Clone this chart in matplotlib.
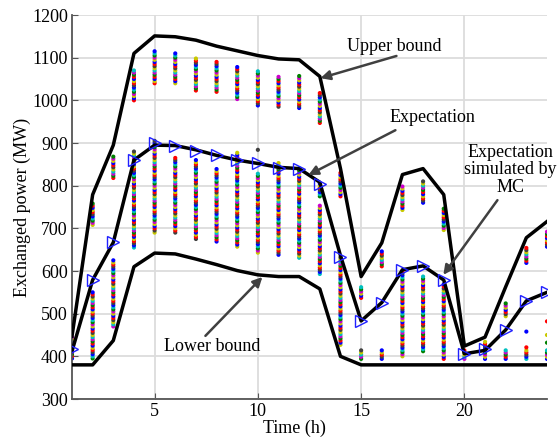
import numpy as np
import matplotlib
matplotlib.use("Agg")
import matplotlib.pyplot as plt

plt.rcParams['font.family'] = ['Liberation Serif', 'DejaVu Serif']

hours = list(range(1, 25))
upper_bound = [447, 779, 895, 1110, 1151, 1149, 1141, 1127, 1116, 1105, 1097, 1095,
               1056, 840, 587, 666, 826, 840, 779, 424, 445, 563, 678, 716]
expectation = [412, 579, 667, 860, 895, 894, 884, 871, 860, 852, 843, 840,
               808, 636, 483, 526, 603, 612, 579, 406, 414, 462, 530, 550]
mc_expectation = [418, 579, 667, 860, 900, 894, 882, 871, 859, 853, 842, 839,
                  804, 632, 483, 526, 603, 612, 579, 406, 418, 462, 530, 550]
lower_bound = [380, 380, 437, 610, 642, 640, 628, 615, 601, 591, 587, 587,
               558, 400, 380, 380, 380, 380, 380, 380, 380, 380, 380, 380]

# Monte Carlo sample columns: (hour, low, high)
col_hours = [1, 2, 2, 3, 3, 4, 4, 5, 5, 6, 6, 7, 7, 8, 8, 9, 9, 10, 10, 11, 11,
             12, 12, 13, 13, 13, 14, 14, 15, 15, 16, 16, 17, 17, 18, 18, 19, 19,
             20, 21, 22, 22, 23, 23, 24, 24]
col_lo = [395, 395, 708, 470, 818, 655, 1000, 690, 1040, 690, 1040, 675, 1023,
          669, 1020, 657, 1003, 643, 988, 638, 985, 631, 982, 593, 775, 947,
          427, 775, 394, 537, 394, 611, 400, 743, 412, 760, 394, 696,
          394, 394, 394, 494, 394, 619, 394, 657]
col_hi = [445, 550, 760, 627, 872, 880, 1070, 905, 1115, 865, 1112, 860, 1100,
          840, 1092, 877, 1081, 830, 1071, 854, 1058, 845, 1060, 753, 805, 1017,
          635, 832, 415, 566, 415, 648, 603, 802, 591, 810, 573, 750,
          415, 435, 415, 525, 415, 655, 415, 696]
single_hours = [10, 23, 23, 24, 24, 24]
single_vals = [884, 458, 421, 482, 450, 432]
single_colors = ['#404040', '#0000ff', '#ff0000', '#ff0000', '#c8c800', '#008000']

palette = ['#0000ff', '#ff0000', '#008000', '#cc00cc', '#00c0c0', '#c8c800', '#404040',
           '#ff0000', '#0000ff', '#c8c800', '#cc00cc', '#008000', '#00c0c0',
           '#0000ff', '#404040', '#ff0000', '#c8c800']

fig = plt.figure(figsize=(5.6, 4.38), dpi=100)
ax = fig.add_axes([72/560, 1-399/438, 475/560, 384/438])

# scatter columns
xs, ys, cs = [], [], []
k = 0
for h, lo, hi in zip(col_hours, col_lo, col_hi):
    for v in np.arange(lo, hi + 0.1, 5.0):
        xs.append(h); ys.append(v); cs.append(palette[k % len(palette)])
        k += 1
ax.scatter(xs, ys, s=9, c=cs, linewidths=0, zorder=2)
ax.scatter(single_hours, single_vals, s=9, c=single_colors, linewidths=0, zorder=2)

ax.plot(hours, upper_bound, color='black', lw=2.5, zorder=3)
ax.plot(hours, expectation, color='black', lw=2.5, zorder=3)
ax.plot(hours, lower_bound, color='black', lw=2.5, zorder=3)
ax.plot(hours, mc_expectation, linestyle='none', marker='>', markersize=8,
        mfc='none', mec='#2020ff', mew=1.0, zorder=4)

ax.set_xlim(1, 24)
ax.set_ylim(300, 1200)
ax.set_xticks([5, 10, 15, 20])
ax.set_yticks(range(300, 1201, 100))
ax.grid(True, color='#dcdcdc', lw=1.3)
ax.set_axisbelow(True)
for s in ['top', 'right']:
    ax.spines[s].set_visible(False)
for s in ['left', 'bottom']:
    ax.spines[s].set_color('#555555')
    ax.spines[s].set_linewidth(1.3)
ax.tick_params(direction='in', length=4, color='#555555', labelsize=13, pad=3)

arrow_kw = dict(arrowstyle='-|>', color='#404040', lw=1.8, mutation_scale=14,
                shrinkA=0, shrinkB=0)
ax.annotate('', xy=(13.03, 1052), xytext=(16.71, 1104), arrowprops=arrow_kw, zorder=5)
ax.annotate('', xy=(12.45, 825), xytext=(16.66, 930), arrowprops=arrow_kw, zorder=5)
ax.annotate('', xy=(18.98, 591), xytext=(21.6, 766), arrowprops=arrow_kw, zorder=5)
ax.annotate('', xy=(10.22, 586), xytext=(7.46, 448), arrowprops=arrow_kw, zorder=5)

ax.text(16.62, 1127, 'Upper bound', ha='center', va='center', fontsize=13)
ax.text(18.46, 959, 'Expectation', ha='center', va='center', fontsize=13)
ax.text(22.23, 837, 'Expectation\nsimulated by\nMC', ha='center', va='center',
        fontsize=13, linespacing=1.05)
ax.text(7.8, 424, 'Lower bound', ha='center', va='center', fontsize=13)

fig.text(294/560, 1-428/438, 'Time (h)', ha='center', va='center', fontsize=13)
fig.text(22/560, 1-207/438, 'Exchanged power (MW)', ha='center', va='center',
         fontsize=13, rotation=90)

fig.savefig('out.png', dpi=100)
